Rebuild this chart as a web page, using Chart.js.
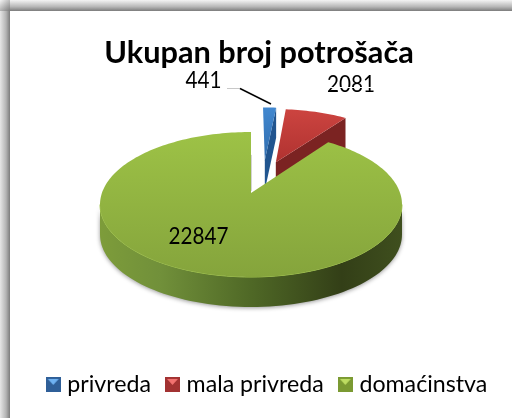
<!DOCTYPE html>
<html>
<head>
<meta charset="utf-8">
<style>
html, body { margin: 0; padding: 0; background: #fff; }
canvas { display: block; }
</style>
<script src="https://cdn.jsdelivr.net/npm/chart.js@4/dist/chart.umd.min.js"></script>
</head>
<body>
<canvas id="pie" width="512" height="418"></canvas>
<script>
var categories = ['privreda', 'mala privreda', 'domaćinstva'];
var values = [441, 2081, 22847];
var chartTitle = 'Ukupan broj potrošača';

//colours per slice: top of the face, bottom of the face, cut side, marker
var faceTop = ['#4288d0', '#cc4440', '#9dc246'];
var faceBottom = ['#2f6cad', '#b03230', '#85a43c'];
var sideColor = ['#21558f', '#7b2322', '#55702a'];
var markerBase = ['#2f5f98', '#a23232', '#7b9a32'];
var markerLight = ['#6fb2f2', '#f27270', '#bedd62'];

//pie placement on the page, with a bit of perspective
var pie = { cx: 251, cy: 204.5, rx: 151, ry: 72.5, k: -0.16, depth: 30 };
//how far each slice is pulled out of the pie, in radius units
var pull = [[0.1, -0.5], [0.179, -0.467], [0, 0]];

var fontName = 'Lato, "Open Sans", sans-serif';

function project(u, v) {
	var den = 1 + pie.k * v;
	var s = Math.sqrt(1 - pie.k * pie.k);
	return {
		x: pie.cx + pie.rx * s * u / den,
		y: pie.cy + pie.ry * (v + pie.k) / den
	};
}

function slicePoints(arc, i) {
	var pts = [];
	var dx = pull[i][0], dy = pull[i][1];
	var steps = Math.max(4, Math.ceil((arc.endAngle - arc.startAngle) * 40));
	pts.push(project(dx, dy));
	for (var n = 0; n <= steps; n++) {
		var a = arc.startAngle + (arc.endAngle - arc.startAngle) * n / steps;
		pts.push(project(dx + Math.cos(a), dy + Math.sin(a)));
	}
	return pts;
}

function tracePoly(ctx, pts) {
	ctx.beginPath();
	pts.forEach(function(p, i) {
		if (i == 0) ctx.moveTo(p.x, p.y);
		else ctx.lineTo(p.x, p.y);
	});
	ctx.closePath();
}

function drawCut(ctx, a, b, color) {
	tracePoly(ctx, [a, b, { x: b.x, y: b.y + pie.depth }, { x: a.x, y: a.y + pie.depth }]);
	ctx.fillStyle = color;
	ctx.fill();
}

function drawFace(ctx, pts, i) {
	var minY = Math.min.apply(null, pts.map(function(p) { return p.y; }));
	var maxY = Math.max.apply(null, pts.map(function(p) { return p.y; }));
	var grad = ctx.createLinearGradient(0, minY, 0, maxY);
	grad.addColorStop(0, faceTop[i]);
	grad.addColorStop(1, faceBottom[i]);
	tracePoly(ctx, pts);
	ctx.fillStyle = grad;
	ctx.fill();
}

function drawRim(ctx) {
	//front of the big slice, from the right extreme round to the left one
	var start = Math.asin(-pie.k);
	var end = Math.PI - start;
	var top = [], bottom = [];
	for (var n = 0; n <= 80; n++) {
		var a = start + (end - start) * n / 80;
		var p = project(Math.cos(a), Math.sin(a));
		top.push(p);
		bottom.unshift({ x: p.x, y: p.y + pie.depth });
	}
	var grad = ctx.createLinearGradient(pie.cx - pie.rx, 0, pie.cx + pie.rx, 0);
	grad.addColorStop(0, '#7d9c3a');
	grad.addColorStop(0.2, '#71903a');
	grad.addColorStop(0.5, '#4f6826');
	grad.addColorStop(0.8, '#333f17');
	grad.addColorStop(1, '#3f4f1e');
	ctx.save();
	ctx.shadowColor = 'rgba(0,0,0,0.4)';
	ctx.shadowBlur = 4;
	ctx.shadowOffsetY = 1;
	tracePoly(ctx, top.concat(bottom));
	ctx.fillStyle = grad;
	ctx.fill();
	ctx.restore();
	//bright line on the front edge
	ctx.beginPath();
	top.forEach(function(p, i) {
		if (i == 0) ctx.moveTo(p.x, p.y);
		else ctx.lineTo(p.x, p.y);
	});
	ctx.strokeStyle = '#a4c74e';
	ctx.lineWidth = 1;
	ctx.stroke();
}

function drawLabel(ctx, text, x, y) {
	//the digits in the picture are narrower than Lato's
	ctx.save();
	ctx.translate(x, y);
	ctx.scale(0.9, 1);
	ctx.fillText(text, 0, 0);
	ctx.restore();
}

var pie3d = {
	id: 'pie3d',
	beforeDraw: function(chart) {
		//frame shadow on the top and left edges
		var ctx = chart.ctx;
		ctx.fillStyle = '#fff';
		ctx.fillRect(0, 0, 512, 418);
		var t = ctx.createLinearGradient(0, 0, 0, 11);
		t.addColorStop(0, '#f4f4f4');
		t.addColorStop(0.6, '#b8b8b8');
		t.addColorStop(1, '#7c7c7c');
		ctx.fillStyle = t;
		ctx.fillRect(10, 0, 502, 11);
		var l = ctx.createLinearGradient(0, 0, 10, 0);
		l.addColorStop(0, '#e6e6e6');
		l.addColorStop(0.6, '#b4b4b4');
		l.addColorStop(1, '#7c7c7c');
		ctx.fillStyle = l;
		ctx.fillRect(0, 11, 10, 407);
		var c = ctx.createLinearGradient(0, 0, 10, 11);
		c.addColorStop(0, '#f4f4f4');
		c.addColorStop(1, '#7c7c7c');
		ctx.fillStyle = c;
		ctx.fillRect(0, 0, 10, 11);
	},
	beforeDatasetDraw: function(chart, args) {
		var ctx = chart.ctx;
		var arcs = args.meta.data;
		ctx.save();
		var blue = slicePoints(arcs[0], 0);
		drawCut(ctx, blue[0], blue[blue.length - 1], sideColor[0]);
		drawFace(ctx, blue, 0);
		var red = slicePoints(arcs[1], 1);
		drawCut(ctx, red[0], red[red.length - 1], sideColor[1]);
		drawFace(ctx, red, 1);
		drawRim(ctx);
		var green = slicePoints(arcs[2], 2);
		//faint shadow beside the cut edge of the big slice
		ctx.strokeStyle = '#d4d4d4';
		ctx.lineWidth = 1;
		ctx.beginPath();
		ctx.moveTo(green[0].x + 0.5, green[0].y - 2);
		ctx.lineTo(green[0].x + 0.5, green[0].y - 38);
		ctx.stroke();
		drawFace(ctx, green, 2);
		ctx.restore();
		return false;
	},
	afterDatasetsDraw: function(chart) {
		var ctx = chart.ctx;
		ctx.save();
		//leader line of the small slice
		ctx.strokeStyle = '#c8c8c8';
		ctx.lineWidth = 1;
		ctx.beginPath();
		ctx.moveTo(227, 88.5);
		ctx.lineTo(240, 88.5);
		ctx.stroke();
		ctx.strokeStyle = '#000';
		ctx.lineWidth = 1.4;
		ctx.beginPath();
		ctx.moveTo(240, 88.5);
		ctx.lineTo(271, 104);
		ctx.stroke();
		ctx.fillStyle = '#000';
		ctx.font = '23px ' + fontName;
		ctx.textAlign = 'center';
		ctx.textBaseline = 'middle';
		drawLabel(ctx, String(values[0]), 203.5, 81);
		drawLabel(ctx, String(values[1]), 351, 85);
		drawLabel(ctx, String(values[2]), 198.5, 237);
		//the second label is cut by a thin white line in the picture
		ctx.fillStyle = '#fff';
		ctx.fillRect(326, 87, 50, 1);
		ctx.restore();
	}
};

function makeMarker(i) {
	var c = document.createElement('canvas');
	c.width = 15;
	c.height = 15;
	var g = c.getContext('2d');
	g.fillStyle = markerBase[i];
	g.fillRect(0, 0, 15, 15);
	g.fillStyle = markerLight[i];
	g.beginPath();
	g.moveTo(2, 2);
	g.lineTo(13, 2);
	g.lineTo(7.5, 8);
	g.closePath();
	g.fill();
	return c;
}

new Chart(document.getElementById('pie'), {
	type: 'pie',
	data: {
		labels: categories,
		datasets: [{ data: values, backgroundColor: faceBottom, borderWidth: 0 }]
	},
	plugins: [pie3d, {
		id: 'nudge',
		afterLayout: function(chart) {
			chart.legend.left += 10;
			chart.legend.right += 10;
		}
	}],
	options: {
		responsive: false,
		animation: false,
		layout: { padding: { left: 6, top: 35, bottom: 12 } },
		plugins: {
			tooltip: { enabled: false },
			title: {
				display: true,
				text: chartTitle,
				color: '#000',
				font: { family: fontName, size: 30.7, weight: 'bold' },
				padding: { top: 0, bottom: 0 }
			},
			legend: {
				position: 'bottom',
				labels: {
					color: '#000',
					font: { family: fontName, size: 23.2 },
					usePointStyle: true,
					pointStyleWidth: 5,
					boxHeight: 15,
					padding: 19,
					generateLabels: function(chart) {
						return categories.map(function(name, i) {
							return { text: name, fontColor: '#000', pointStyle: makeMarker(i), index: i, fillStyle: faceBottom[i], strokeStyle: faceBottom[i], lineWidth: 0 };
						});
					}
				}
			}
		}
	}
});
</script>
</body>
</html>
